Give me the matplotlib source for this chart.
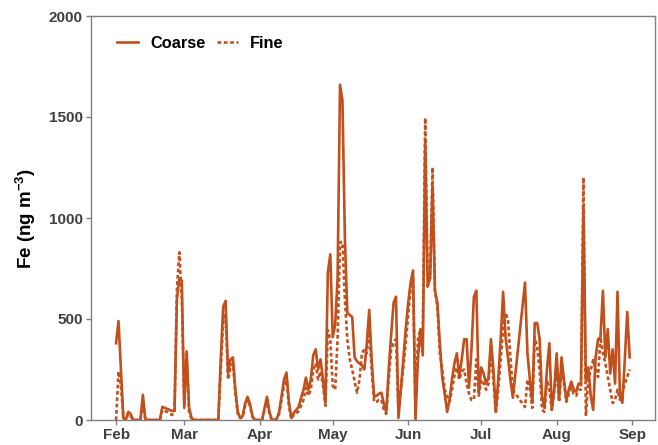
import numpy as np
import pandas as pd
import matplotlib
matplotlib.use("Agg")
import matplotlib.pyplot as plt
import matplotlib.dates as mdates
from matplotlib.lines import Line2D

plt.rcParams["font.family"] = ["Liberation Sans", "DejaVu Sans"]
plt.rcParams["mathtext.fontset"] = "custom"
plt.rcParams["mathtext.rm"] = "Liberation Sans:bold"
plt.rcParams["mathtext.bf"] = "Liberation Sans:bold"

# days counted from 1 Feb (days 164-167 missing)
start = "2019-02-01"
days = list(range(0, 164)) + list(range(168, 212))

coarse = [
    # Feb
    380, 490, 250, 10, 0, 40, 30, 0, 0, 0, 0, 125, 5, 0, 0, 0, 0, 0, 0, 65,
    60, 55, 50, 45, 45, 600, 700, 690,
    # Mar
    60, 340, 60, 10, 0, 0, 0, 0, 0, 0, 0, 0, 0, 0, 0, 300, 560, 590, 230, 300,
    310, 150, 40, 10, 20, 80, 115, 80, 20, 0, 0,
    # Apr
    0, 0, 60, 115, 40, 0, 0, 5, 40, 120, 200, 235, 90, 10, 35, 50, 65, 110, 150, 210,
    150, 200, 320, 350, 250, 300, 200, 85, 730, 820,
    # May
    410, 470, 700, 1660, 1580, 900, 530, 520, 510, 310, 290, 280, 270, 250, 380, 545,
    300, 115, 120, 130, 135, 80, 40, 250, 420, 580, 610, 10, 150, 300, 450,
    # Jun
    580, 680, 740, 0, 300, 450, 320, 1380, 660, 700, 1160, 640, 580, 380, 210, 130,
    40, 100, 200, 280, 330, 210, 300, 400, 400, 160, 350, 610, 640, 135,
    # Jul
    260, 230, 180, 210, 400, 250, 40, 200, 400, 635, 410, 310, 200, 110,
    680, 330, 200, 85, 480, 480, 400, 115, 60, 250, 380, 50, 150,
    # Aug
    330, 100, 310, 200, 100, 150, 190, 150, 140, 180, 180, 1050, 200, 260, 120, 50,
    310, 400, 410, 640, 310, 450, 230, 350, 180, 635, 115, 85, 300, 535, 310,
]

fine = [
    # Feb
    0, 240, 170, 10, 0, 30, 20, 0, 0, 0, 0, 90, 5, 0, 0, 0, 0, 0, 0, 50,
    45, 40, 30, 25, 40, 650, 830, 600,
    # Mar
    80, 300, 40, 5, 0, 0, 0, 0, 0, 0, 0, 0, 0, 0, 0, 250, 480, 520, 200, 260,
    280, 130, 30, 10, 15, 70, 100, 70, 15, 0, 0,
    # Apr
    0, 0, 50, 100, 30, 0, 0, 5, 30, 100, 170, 210, 70, 5, 25, 30, 45, 70, 100, 160,
    120, 150, 250, 280, 200, 240, 170, 70, 445, 400,
    # May
    170, 150, 400, 881, 880, 600, 400, 300, 250, 190, 135, 200, 330, 350, 330, 450,
    250, 90, 90, 100, 100, 50, 30, 200, 350, 380, 400, 50, 150, 260, 380,
    # Jun
    520, 650, 710, 60, 400, 450, 430, 1495, 700, 700, 1250, 640, 560, 330, 250, 150,
    120, 90, 150, 220, 260, 200, 240, 250, 180, 130, 99, 100, 300, 120,
    # Jul
    200, 180, 150, 180, 350, 200, 35, 150, 300, 450, 530, 500, 310, 148,
    64, 200, 150, 60, 410, 360, 248, 50, 40, 200, 150, 50, 150,
    # Aug
    248, 90, 250, 180, 90, 130, 160, 130, 120, 150, 150, 1200, 20, 200, 248, 297,
    250, 213, 411, 330, 282, 213, 150, 84, 100, 150, 100, 134, 180, 213, 250,
]

color = "#C1501C"
dates = pd.Timestamp(start) + pd.to_timedelta(days, unit="D")

fig = plt.figure(figsize=(6.58, 4.45), dpi=100)
ax = fig.add_axes([91 / 658, 25 / 445, 564 / 658, 404 / 445])

ax.plot(dates, coarse, color=color, lw=1.9, solid_joinstyle="round")
ax.plot(dates, fine, color=color, lw=1.9, linestyle=(0, (1.4, 1.0)))

ax.set_ylim(0, 2000)
ax.set_yticks([0, 500, 1000, 1500, 2000])
ax.set_xlim(pd.Timestamp(start) - pd.Timedelta(days=10.3),
            pd.Timestamp(start) + pd.Timedelta(days=221.4))
ax.xaxis.set_major_locator(mdates.MonthLocator())
ax.xaxis.set_major_formatter(mdates.DateFormatter("%b"))

for s in ax.spines.values():
    s.set_color("#808080")
    s.set_linewidth(1.0)
ax.tick_params(colors="#808080", labelcolor="#404040", length=3.5, width=1.0,
               labelsize=11, pad=2.5)
for lab in ax.get_xticklabels() + ax.get_yticklabels():
    lab.set_fontweight("bold")

ax.set_ylabel(r"Fe (ng m$^{-3}$)", fontsize=13.5, fontweight="bold", labelpad=8)

handles = [Line2D([], [], color=color, lw=1.9),
           Line2D([], [], color=color, lw=1.9, linestyle=(0, (1.4, 1.0)))]
ax.legend(handles, ["Coarse", "Fine"], loc="upper left", ncol=2, frameon=False,
          prop={"weight": "bold", "size": 11.8}, handlelength=1.28,
          handletextpad=0.75, columnspacing=0.7, bbox_to_anchor=(0.02, 0.988))

fig.savefig("out.png", dpi=100)
